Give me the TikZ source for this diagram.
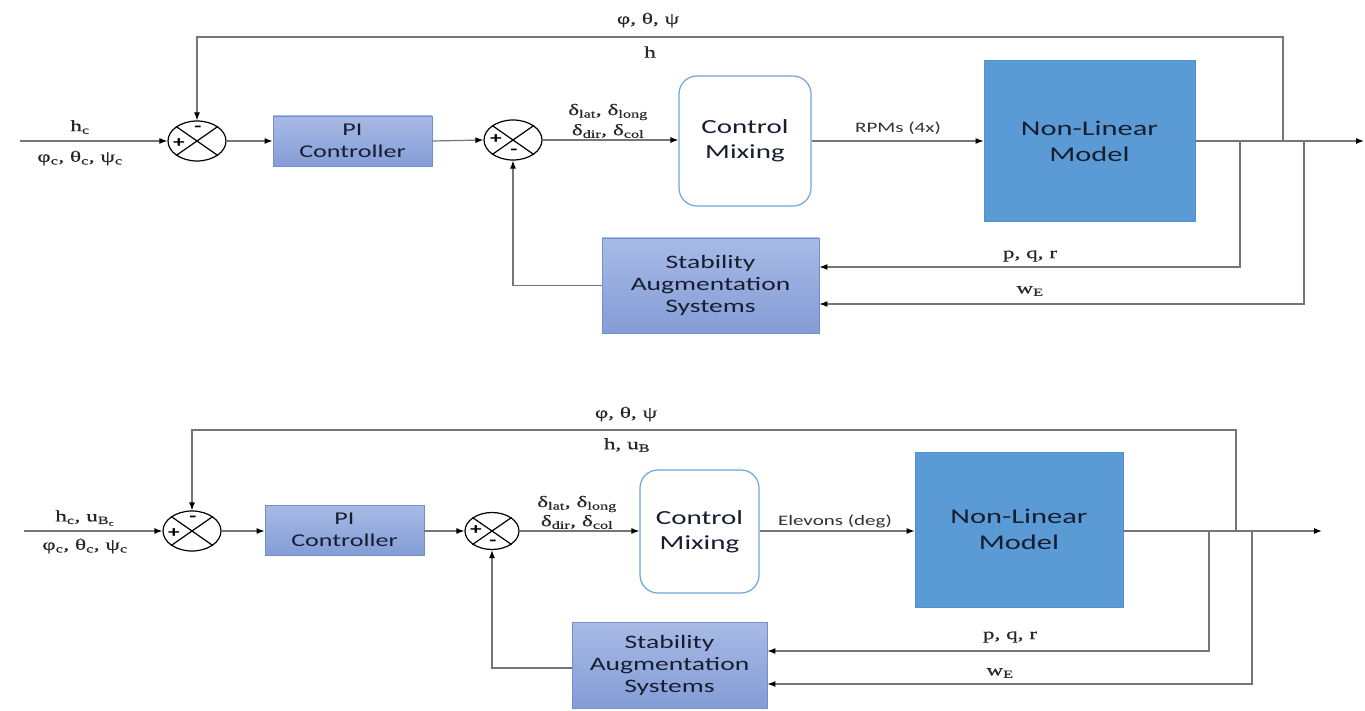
\documentclass[tikz,border=0pt]{standalone}
\usepackage{fontspec}
\setmainfont{Carlito}[FakeStretch=1.45]
\newfontfamily\lab{Liberation Serif}[FakeStretch=1.45,FakeBold=0.4]
\usetikzlibrary{shapes.geometric,arrows.meta,calc}
\newcommand{\lsub}[1]{\textsubscript{#1}}
\definecolor{pitop}{RGB}{168,186,230}
\definecolor{pibot}{RGB}{132,157,214}
\definecolor{pibord}{RGB}{115,142,205}
\definecolor{nlfill}{RGB}{91,155,213}
\definecolor{nlbord}{RGB}{84,145,205}
\definecolor{cmbord}{RGB}{110,165,220}
\definecolor{boxtext}{RGB}{22,30,48}
\definecolor{lgray}{RGB}{118,118,118}
\begin{document}
\begin{tikzpicture}[x=1pt,y=-1pt,
  line/.style={draw=lgray,line width=1.2pt},
  arr/.style={line,-{Latex[length=8pt,width=6pt,color=black]}},
  sumnode/.style={ellipse,draw=black,line width=1.2pt,minimum width=58pt,minimum height=40pt,inner sep=0pt,fill=white},
  pibox/.style={draw=pibord,line width=0.8pt,top color=pitop,bottom color=pibot,text=boxtext,align=center,inner sep=0pt,font=\fontsize{18}{22}\selectfont},
  sasbox/.style={pibox,font=\fontsize{19}{22}\selectfont},
  cmbox/.style={draw=cmbord,line width=1.2pt,rounded corners=18pt,fill=white,text=boxtext,align=center,inner sep=0pt,font=\fontsize{20}{25}\selectfont},
  nlbox/.style={draw=nlbord,line width=0.8pt,fill=nlfill,text=boxtext,align=center,inner sep=0pt,font=\fontsize{21}{26}\selectfont},
  lbl/.style={inner sep=0pt,text=black!85,font=\lab\fontsize{16}{18}\selectfont},
  slbl/.style={inner sep=0pt,text=black!80,font=\fontsize{14.5}{16}\selectfont},
  sign/.style={inner sep=0pt,font=\bfseries\fontsize{16}{16}\selectfont}]
\useasboundingbox[fill=white] (0,0) rectangle (1365,711);

% ================= TOP DIAGRAM =================
\node[sumnode] (s1) at (197,141) {};
\draw[line width=1.2pt] (s1.north west) -- (s1.south east) (s1.north east) -- (s1.south west);
\node[sign] (s1p) at (179,143) {+};
\node[sign] (s1m) at (198,129) {-};

\node[pibox,minimum width=159pt,minimum height=50pt] (pi1) at (352.5,141) {PI\\Controller};

\node[sumnode] (s2) at (513,140) {};
\draw[line width=1.2pt] (s2.north west) -- (s2.south east) (s2.north east) -- (s2.south west);
\node[sign] (s2p) at (496,139) {+};
\node[sign] (s2m) at (514,152) {-};

\node[cmbox,minimum width=132pt,minimum height=130pt] (cm1) at (745,141) {Control\\Mixing};
\node[nlbox,minimum width=211pt,minimum height=161pt] (nl1) at (1089.5,141) {Non-Linear\\Model};
\node[sasbox,minimum width=217pt,minimum height=95pt] (sas1) at (710.5,285.5) {Stability\\Augmentation\\Systems};

\coordinate (in1) at (20,141);
\coordinate (out1) at (1364,141);
\coordinate (b1) at (1283,141);
\coordinate (t1) at (1283,37);
\coordinate (b2) at (1240,141);
\coordinate (c2) at (1240,267);
\coordinate (b3) at (1304,141);
\coordinate (c3) at (1304,304);

\draw[arr] (in1) -- (s1.west);
\draw[arr] (s1.east) -- (pi1.west);
\draw[arr] (pi1.east) -- (s2.west);
\draw[arr] (s2.east) -- (cm1.west |- s2.east);
\draw[arr] (cm1.east) -- (nl1.west);
\draw[arr] (nl1.east) -- (out1);
\draw[arr] (b1) -- (t1) -| (s1.north);
\draw[arr] (b2) -- (c2) -- (sas1.east |- c2);
\draw[arr] (b3) -- (c3) -- (sas1.east |- c3);
\draw[arr] (sas1.west) -| (s2.south);

\node[lbl] (l1a) at (80,127) {h\lsub{c}};
\node[lbl] (l1b) at (80,158) {φ\lsub{c}, θ\lsub{c}, ψ\lsub{c}};
\node[lbl] (l1c) at (608,112) {δ\lsub{lat}, δ\lsub{long}};
\node[lbl] (l1d) at (608,131) {δ\lsub{dir}, δ\lsub{col}};
\node[slbl] (l1e) at (898,128) {RPMs (4x)};
\node[lbl] (l1f) at (648,20) {φ, θ, ψ};
\node[lbl] (l1g) at (650,52) {h};
\node[lbl] (l1h) at (1030,256) {p, q, r};
\node[lbl] (l1i) at (1030,291) {w\lsub{E}};

% ================= BOTTOM DIAGRAM =================
\node[sumnode] (s3) at (192,531) {};
\draw[line width=1.2pt] (s3.north west) -- (s3.south east) (s3.north east) -- (s3.south west);
\node[sign] (s3p) at (174,533) {+};
\node[sign] (s3m) at (193,519) {-};

\node[pibox,minimum width=159pt,minimum height=50pt] (pi2) at (344.5,530) {PI\\Controller};

\node[sumnode,minimum width=54pt,minimum height=37pt] (s4) at (492,531) {};
\draw[line width=1.2pt] (s4.north west) -- (s4.south east) (s4.north east) -- (s4.south west);
\node[sign] (s4p) at (476,530) {+};
\node[sign] (s4m) at (493,543) {-};

\node[cmbox,minimum width=119pt,minimum height=123pt] (cm2) at (699.5,531.5) {Control\\Mixing};
\node[nlbox,minimum width=208pt,minimum height=155pt] (nl2) at (1019,529.5) {Non-Linear\\Model};
\node[sasbox,minimum width=195pt,minimum height=86pt] (sas2) at (669.5,665) {Stability\\Augmentation\\Systems};

\coordinate (in2) at (24,531);
\coordinate (out2) at (1322,531);
\coordinate (b4) at (1236,531);
\coordinate (t4) at (1236,430);
\coordinate (b5) at (1209,531);
\coordinate (c5) at (1209,651);
\coordinate (b6) at (1252,531);
\coordinate (c6) at (1252,684);

\draw[arr] (in2) -- (s3.west);
\draw[arr] (s3.east) -- (pi2.west |- s3.east);
\draw[arr] (pi2.east |- s4.west) -- (s4.west);
\draw[arr] (s4.east) -- (cm2.west |- s4.east);
\draw[arr] (cm2.east |- s4.east) -- (nl2.west |- s4.east);
\draw[arr] (nl2.east |- out2) -- (out2);
\draw[arr] (b4) -- (t4) -| (s3.north);
\draw[arr] (b5) -- (c5) -- (sas2.east |- c5);
\draw[arr] (b6) -- (c6) -- (sas2.east |- c6);
\draw[arr] (sas2.west |- 0,668) -| (s4.south);

\node[lbl] (l2a) at (85,518) {h\lsub{c}, u\lsub{B\lsub{c}}};
\node[lbl] (l2b) at (85,546) {φ\lsub{c}, θ\lsub{c}, ψ\lsub{c}};
\node[lbl] (l2c) at (577,504) {δ\lsub{lat}, δ\lsub{long}};
\node[lbl] (l2d) at (577,522) {δ\lsub{dir}, δ\lsub{col}};
\node[slbl] (l2e) at (835,521) {Elevons (deg)};
\node[lbl] (l2f) at (626,414) {φ, θ, ψ};
\node[lbl] (l2g) at (627,445) {h, u\lsub{B}};
\node[lbl] (l2h) at (1010,637) {p, q, r};
\node[lbl] (l2i) at (1000,673) {w\lsub{E}};
\end{tikzpicture}
\end{document}
